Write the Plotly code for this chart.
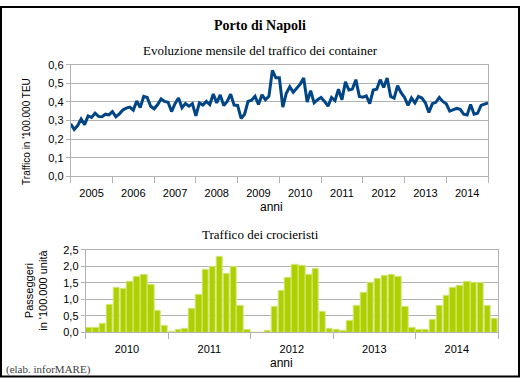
import plotly.graph_objects as go

# ---- Container traffic (monthly, '100.000 TEU), Jan 2005 onward ----
teu_2005 = [0.282, 0.252, 0.273, 0.308, 0.278, 0.325, 0.317, 0.339, 0.322, 0.320, 0.334, 0.330]
teu_2006 = [0.348, 0.320, 0.336, 0.357, 0.367, 0.372, 0.356, 0.405, 0.370, 0.430, 0.424, 0.377]
teu_2007 = [0.363, 0.386, 0.416, 0.403, 0.398, 0.348, 0.391, 0.421, 0.369, 0.391, 0.377, 0.390]
teu_2008 = [0.325, 0.395, 0.383, 0.403, 0.386, 0.443, 0.395, 0.438, 0.381, 0.403, 0.442, 0.383]
teu_2009 = [0.381, 0.311, 0.334, 0.403, 0.409, 0.430, 0.386, 0.438, 0.412, 0.430, 0.570, 0.530]
teu_2010 = [0.530, 0.372, 0.447, 0.482, 0.452, 0.477, 0.496, 0.529, 0.400, 0.461, 0.395, 0.412]
teu_2011 = [0.424, 0.403, 0.377, 0.424, 0.407, 0.468, 0.412, 0.508, 0.464, 0.469, 0.520, 0.430]
teu_2012 = [0.426, 0.433, 0.391, 0.464, 0.468, 0.520, 0.478, 0.529, 0.430, 0.421, 0.487, 0.450]
teu_2013 = [0.424, 0.381, 0.421, 0.395, 0.430, 0.421, 0.395, 0.343, 0.391, 0.398, 0.424, 0.403]
teu_2014 = [0.390, 0.351, 0.357, 0.365, 0.360, 0.334, 0.330, 0.386, 0.334, 0.339, 0.381, 0.386, 0.395]
line_years = ["2005", "2006", "2007", "2008", "2009", "2010", "2011", "2012", "2013", "2014"]

# ---- Cruise passengers (monthly, '100.000 units), 2010-2014 ----
pax_2010 = [0.13, 0.13, 0.25, 0.85, 1.35, 1.31, 1.53, 1.69, 1.73, 1.44, 0.65, 0.19]
pax_2011 = [0.03, 0.09, 0.11, 0.71, 1.14, 1.88, 2.00, 2.30, 1.77, 2.00, 0.80, 0.09]
pax_2012 = [0.00, 0.00, 0.05, 0.78, 1.27, 1.66, 2.04, 2.03, 1.75, 1.92, 0.61, 0.12]
pax_2013 = [0.09, 0.06, 0.35, 0.80, 1.20, 1.51, 1.62, 1.70, 1.73, 1.69, 0.77, 0.15]
pax_2014 = [0.09, 0.09, 0.38, 0.82, 1.12, 1.34, 1.42, 1.54, 1.51, 1.51, 0.82, 0.42]
bar_years = ["2010", "2011", "2012", "2013", "2014"]

teu = teu_2005 + teu_2006 + teu_2007 + teu_2008 + teu_2009 + teu_2010 + teu_2011 + teu_2012 + teu_2013 + teu_2014
pax = pax_2010 + pax_2011 + pax_2012 + pax_2013 + pax_2014

W, H = 521, 384
def px(x):
    return x / W
def py(y):
    return 1 - y / H

GRID = "#b3b3b3"
SANS = "Liberation Sans"
SERIF = "Liberation Serif"

fig = go.Figure()
fig.add_trace(go.Scatter(
    x=list(range(len(teu))), y=teu, mode="lines",
    line=dict(color="#004586", width=3), xaxis="x", yaxis="y", showlegend=False,
))
fig.add_trace(go.Bar(
    x=[i + 0.5 for i in range(len(pax))], y=pax, width=0.94,
    marker=dict(color="#aecf00", line=dict(color="#d4e77e", width=1)),
    xaxis="x2", yaxis="y2", showlegend=False,
))

n_line = 12 * len(line_years)
n_bar = 12 * len(bar_years)

axis_common = dict(showline=True, linecolor=GRID, linewidth=1, mirror=True, zeroline=False,
                   tickfont=dict(family=SANS, size=11, color="#000000"))

fig.update_layout(
    width=W, height=H, autosize=False,
    margin=dict(l=0, r=0, t=0, b=0),
    paper_bgcolor="white", plot_bgcolor="white",
    separators=",.",
    xaxis=dict(domain=[px(70.7), px(488)], range=[0, n_line], showgrid=False,
               tickmode="array", tickvals=[12 * i + 6 for i in range(len(line_years))],
               ticktext=line_years, ticks="", ticklabelstandoff=7,
               minor=dict(tickmode="array", tickvals=[12 * i for i in range(len(line_years) + 1)],
                          ticks="outside", ticklen=6, tickcolor=GRID, showgrid=False),
               anchor="y", **axis_common),
    yaxis=dict(domain=[py(175.7), py(60.7)], range=[0, 0.6], dtick=0.1, tickformat=".1f",
               showgrid=True, gridcolor=GRID, ticks="outside", ticklen=4, tickcolor=GRID,
               anchor="x", **axis_common),
    xaxis2=dict(domain=[px(85.7), px(498)], range=[0, n_bar], showgrid=False,
                tickmode="array", tickvals=[12 * i + 6 for i in range(len(bar_years))],
                ticktext=bar_years, ticks="", ticklabelstandoff=6,
                minor=dict(tickmode="array", tickvals=[12 * i for i in range(len(bar_years) + 1)],
                           ticks="outside", ticklen=6, tickcolor=GRID, showgrid=False),
                anchor="y2", **axis_common),
    yaxis2=dict(domain=[py(337), py(251.7)], range=[0, 2.5], dtick=0.5, tickformat=".1f",
                showgrid=True, gridcolor=GRID, ticks="outside", ticklen=4, tickcolor=GRID,
                anchor="x2", **axis_common),
    bargap=0,
)

ann = [
    dict(text="<b>Porto di Napoli</b>", x=px(260), y=py(20), font=dict(family=SERIF, size=14)),
    dict(text="Evoluzione mensile del traffico dei container", x=px(260), y=py(46),
         font=dict(family=SERIF, size=13)),
    dict(text="Traffico dei crocieristi", x=px(260), y=py(236), font=dict(family=SERIF, size=13)),
    dict(text="anni", x=px(271), y=py(207), font=dict(family=SANS, size=12)),
    dict(text="anni", x=px(281), y=py(368), font=dict(family=SANS, size=12)),
    dict(text="Traffico in '100.000 TEU", x=px(27), y=py(130), textangle=-90,
         font=dict(family=SANS, size=10)),
    dict(text="Passeggeri<br>in '100.000 unità", x=px(36), y=py(294), textangle=-90,
         font=dict(family=SANS, size=11)),
]
for a in ann:
    a.update(xref="paper", yref="paper", showarrow=False, xanchor="center", yanchor="middle")
    a["font"].setdefault("color", "#000000")
    fig.add_annotation(**a)

fig.add_annotation(text="(elab. inforMARE)", x=px(4), y=py(375), xref="paper", yref="paper",
                   showarrow=False, xanchor="left", yanchor="middle",
                   font=dict(family=SERIF, size=11, color="#404040"))

fig.add_shape(type="rect", xref="paper", yref="paper", x0=px(1), x1=px(519), y0=py(382.5), y1=py(1),
              line=dict(color="#000000", width=2), fillcolor="rgba(0,0,0,0)")

fig.write_html("out.html", config={"displayModeBar": False},
               post_script="document.body.style.margin='0px';document.body.style.overflow='hidden';")
